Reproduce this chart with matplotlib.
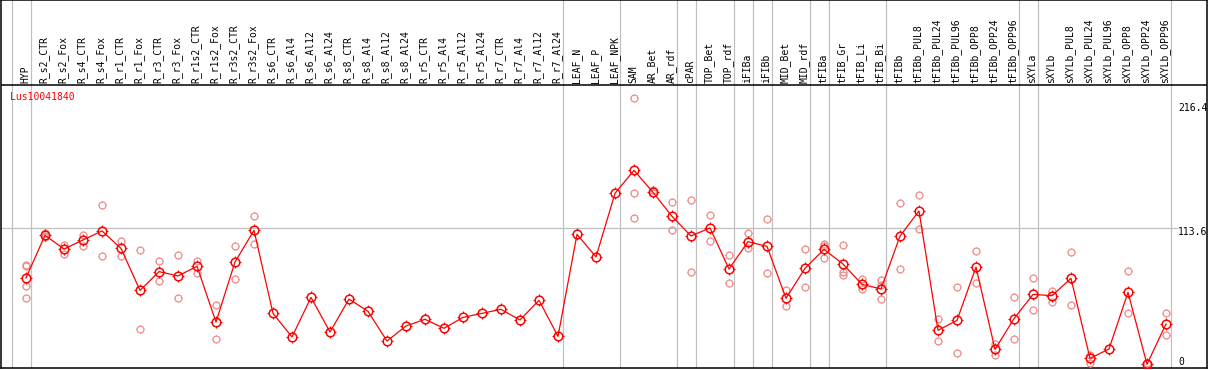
import matplotlib
matplotlib.use("Agg")
import matplotlib.pyplot as plt
from matplotlib.path import Path
from matplotlib.transforms import offset_copy

# ---------------- data ----------------
categories = [
    "HYP", "R_s2_CTR", "R_s2_Fox", "R_s4_CTR", "R_s4_Fox", "R_r1_CTR", "R_r1_Fox",
    "R_r3_CTR", "R_r3_Fox", "R_r1s2_CTR", "R_r1s2_Fox", "R_r3s2_CTR", "R_r3s2_Fox",
    "R_s6_CTR", "R_s6_Al4", "R_s6_Al12", "R_s6_Al24", "R_s8_CTR", "R_s8_Al4",
    "R_s8_Al12", "R_s8_Al24", "R_r5_CTR", "R_r5_Al4", "R_r5_Al12", "R_r5_Al24",
    "R_r7_CTR", "R_r7_Al4", "R_r7_Al12", "R_r7_Al24", "LEAF_N", "LEAF_P", "LEAF_NPK",
    "SAM", "AR_Bet", "AR_rdf", "cPAR", "TOP_Bet", "TOP_rdf", "iFIBa", "iFIBb",
    "MID_Bet", "MID_rdf", "tFIBa", "tFIB_Gr", "tFIB_Li", "tFIB_Bi", "tFIBb",
    "tFIBb_PUL8", "tFIBb_PUL24", "tFIBb_PUL96", "tFIBb_OPP8", "tFIBb_OPP24",
    "tFIBb_OPP96", "sXYLa", "sXYLb", "sXYLb_PUL8", "sXYLb_PUL24", "sXYLb_PUL96",
    "sXYLb_OPP8", "sXYLb_OPP24", "sXYLb_OPP96",
]

means = [
    72.3, 107.8, 96.4, 103.9, 111.4, 96.9, 62.0, 77.6, 74.0, 82.0, 35.7, 85.6, 111.9,
    42.9, 23.3, 56.2, 27.4, 54.8, 44.6, 19.9, 32.4, 38.0, 30.5, 39.6, 42.9, 46.3,
    37.4, 53.8, 23.8, 108.6, 89.8, 142.7, 161.8, 143.5, 123.6, 107.2, 113.9, 79.8,
    102.5, 98.6, 55.4, 80.3, 96.1, 83.9, 67.0, 63.2, 107.1, 128.0, 28.8, 37.1, 81.4,
    13.0, 38.5, 58.7, 57.6, 72.0, 5.5, 13.3, 60.4, 0.6, 34.1,
]

replicates = [
    [83.4, 82.6, 65.4, 55.7], [109.4, 107.2, 106.5], [99.7, 92.2], [108.0, 98.9],
    [132.7, 90.3], [103.0, 90.3], [95.3, 29.6], [86.4, 69.5], [91.1, 55.4],
    [86.4, 76.7], [49.6, 21.3], [98.6, 71.2], [123.6, 100.3],
    [], [], [], [], [], [], [], [], [], [], [], [], [], [], [], [], [], [], [],
    [221.6, 142.7, 122.2], [145.4, 142.7], [135.2, 111.9], [136.9, 77.0],
    [124.4, 102.8], [91.1, 67.9], [109.4, 96.9], [121.1, 76.5], [62.0, 48.8],
    [96.1, 64.6], [100.6, 99.0, 88.6], [99.5, 77.0, 74.5], [71.5, 62.9],
    [70.6, 66.7, 54.6], [134.6, 79.5], [141.3, 113.3], [38.2, 19.9], [64.8, 9.7],
    [94.5, 67.9], [17.2, 8.6], [56.2, 21.9], [72.0, 45.4], [61.8, 52.6],
    [93.9, 49.6], [8.3, 1.9], [], [77.8, 42.9], [1.9], [43.2, 24.7],
]

group_ends = [-1, 0, 28, 31, 34, 35, 37, 38, 39, 41, 42, 45, 52, 53, 60]
ytick_values = [216.4, 113.6, 0]
ytick_labels = ["216.4", "113.6", "0"]
gene = "Lus10041840"

# ---------------- layout ----------------
W, H = 1209, 370
PX_PER_UNIT = 1.2033      # vertical pixels per data unit
Y0_PX = 365.0             # pixel row of value 0
X0_PX, DX_PX = 26.0, 19.0  # pixel column of first category, spacing

def v_of_px(py):
    return (Y0_PX - py) / PX_PER_UNIT

fig = plt.figure(figsize=(W / 100, H / 100), dpi=100)
fig.patch.set_facecolor("white")
left_px, right_px, top_px, bot_px = 1, 1207, 0, 368
ax = fig.add_axes([left_px / W, (H - bot_px) / H,
                   (right_px - left_px) / W, (bot_px - top_px) / H])
ax.set_xlim((left_px - X0_PX) / DX_PX, (right_px - X0_PX) / DX_PX)
ax.set_ylim(v_of_px(bot_px), v_of_px(top_px))
ax.set_xticks([])
ax.set_yticks([])
for s in ax.spines.values():
    s.set_linewidth(1.1)
    s.set_color("black")

mono = "DejaVu Sans Mono"
n = len(categories)
xs = list(range(n))

# group separators
off = 4.5 / DX_PX
for g in group_ends:
    ax.axvline(g + off, color="#c0c0c0", lw=0.9, zorder=1)

# header separator
header_v = v_of_px(85)
ax.axhline(header_v, color="black", lw=1.1, zorder=2)

# horizontal reference line
ax.axhline(113.6, xmin=0, xmax=(1177 - left_px) / (right_px - left_px),
           color="#c0c0c0", lw=0.9, zorder=1)

# tick marks around circles
TICK = 1.28
tv, tc = [], []
for dx, dy in [(1, 0), (-1, 0), (0, 1), (0, -1)]:
    tv += [(dx * 1.0, dy * 1.0), (dx * TICK, dy * TICK)]
    tc += [Path.MOVETO, Path.LINETO]
ticks = Path(tv, tc)

def draw_markers(x, y, size, color, ew, z):
    ax.plot(x, y, linestyle="none", marker="o", markersize=size,
            markerfacecolor="none", markeredgecolor=color, markeredgewidth=ew,
            zorder=z)
    ax.plot(x, y, linestyle="none", marker=ticks, markersize=size * TICK,
            markerfacecolor="none", markeredgecolor=color, markeredgewidth=ew * 0.7,
            zorder=z)

# replicates
rx, ry = [], []
for i, reps in enumerate(replicates):
    for r in reps:
        rx.append(i)
        ry.append(r)
draw_markers(rx, ry, 5.0, "#ee8c8c", 0.9, 3)

# mean line
ax.plot(xs, means, color="#ff0000", lw=0.9, zorder=4)
draw_markers(xs, means, 6.2, "#ff0000", 1.1, 5)

# header labels
lab_v = v_of_px(83)
for i, c in enumerate(categories):
    ax.text(i - 0.05, lab_v, c, rotation=90, ha="center", va="bottom",
            fontsize=7, family=mono, color="black", zorder=6)

# gene label
ax.text((10 - X0_PX) / DX_PX, v_of_px(97.5), gene, ha="left", va="center",
        fontsize=7, family=mono, color="#ff0000", zorder=6)

# right side value labels
offsets = [-3.4, -3.4, 3.0]
for val, lab, o in zip(ytick_values, ytick_labels, offsets):
    tr = offset_copy(ax.transData, fig=fig, x=0, y=o * 72 / 100, units="points")
    ax.text((1178 - X0_PX) / DX_PX, val, lab, ha="left", va="center",
            fontsize=7, family=mono, color="black", transform=tr,
            clip_on=True, zorder=6)

fig.savefig("out.png", dpi=100, facecolor="white")
